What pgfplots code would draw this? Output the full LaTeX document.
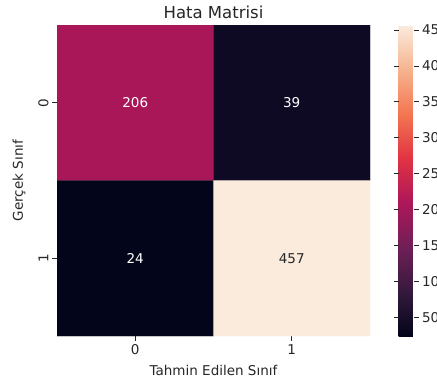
\documentclass[border=0pt]{standalone}
\usepackage{fontspec}
\setmainfont{DejaVu Sans}
\usepackage{pgfplots}
\pgfplotsset{compat=1.18}
\definecolor{txt}{HTML}{262626}
\begin{document}
\begin{tikzpicture}[x=1pt,y=1pt]
\begin{axis}[
  at={(57pt,50pt)}, anchor=south west,
  scale only axis, width=313pt, height=311pt,
  xmin=-0.5, xmax=1.5, ymin=-0.5, ymax=1.5, y dir=reverse,
  axis line style={draw=none},
  xtick={0,1}, ytick={0,1},
  tick align=outside, major tick length=5pt,
  tick style={color=txt, line width=0.8pt},
  xtick pos=bottom, ytick pos=left,
  /pgf/number format/assume math mode=true,
  ticklabel style={font=\fontsize{13.5}{13.5}\selectfont, text=txt},
  yticklabel style={rotate=90, anchor=south},
  xlabel={Tahmin Edilen Sınıf}, ylabel={Gerçek Sınıf},
  xlabel shift=4pt, ylabel shift=6pt,
  label style={font=\fontsize{13.5}{13.5}\selectfont, text=txt},
  title={Hata Matrisi},
  title style={font=\fontsize{16.5}{16.5}\selectfont, text=txt, yshift=-3pt},
  colormap={rocket}{
    rgb255(0pt)=(3,5,26)
    rgb255(143pt)=(53,25,62)
    rgb255(286pt)=(112,31,87)
    rgb255(429pt)=(173,23,89)
    rgb255(571pt)=(225,51,66)
    rgb255(714pt)=(243,118,81)
    rgb255(857pt)=(246,180,143)
    rgb255(1000pt)=(250,235,221)
  },
  point meta min=24, point meta max=457,
  colorbar,
  colorbar style={
    at={(parent axis.north east)}, anchor=north west, xshift=20pt,
    scale only axis, width=15pt, height=311pt,
    axis line style={draw=none},
    ytick={50,100,...,450},
    tick align=outside, major tick length=5pt,
    tick style={color=txt, line width=0.8pt},
    /pgf/number format/assume math mode=true,
    yticklabel style={font=\fontsize{13.5}{13.5}\selectfont, text=txt},
  },
]
\addplot[matrix plot*, mesh/cols=2, point meta=explicit] table[meta=c] {
x y c
0 0 206
1 0 39
0 1 24
1 1 457
};
\addplot[draw=none, mark=none, point meta=explicit symbolic,
  nodes near coords, nodes near coords style={anchor=center, text=white, font=\fontsize{13.5}{13.5}\selectfont}]
  table[meta=c] {
x y c
0 0 206
1 0 39
0 1 24
};
\addplot[draw=none, mark=none, point meta=explicit symbolic,
  nodes near coords, nodes near coords style={anchor=center, text=txt, font=\fontsize{13.5}{13.5}\selectfont}]
  table[meta=c] {
x y c
1 1 457
};
\end{axis}
\pgfresetboundingbox
\useasboundingbox (0,0) rectangle (437,386);
\end{tikzpicture}
\end{document}
